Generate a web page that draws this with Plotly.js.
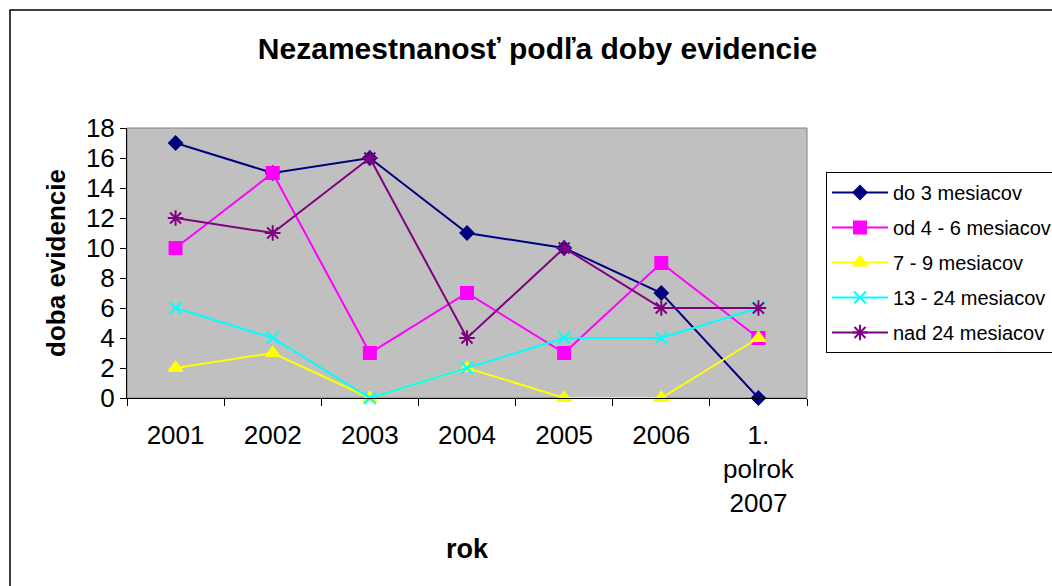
<!DOCTYPE html>
<html>
<head>
<meta charset="utf-8">
<script src="https://cdn.plot.ly/plotly-3.0.1.min.js"></script>
<style>
html,body{margin:0;padding:0;background:#fff;}
#chart{width:1052px;height:586px;}
</style>
</head>
<body>
<div id="chart"></div>
<script>
const categories = ["2001","2002","2003","2004","2005","2006","1.<br>polrok<br>2007"];
const seriesNames = ["do 3 mesiacov","od 4 - 6 mesiacov","7 - 9 mesiacov","13 - 24 mesiacov","nad 24 mesiacov"];
const do3 = [17,15,16,11,10,7,0];
const od4to6 = [10,15,3,7,3,9,4];
const m7to9 = [2,3,0,2,0,0,4];
const m13to24 = [6,4,0,2,4,4,6];
const nad24 = [12,11,16,4,10,6,6];

const values = [do3, od4to6, m7to9, m13to24, nad24];
const colors = ["#000080","#FF00FF","#FFFF00","#00FFFF","#800080"];
const symbols = ["diamond","square","triangle-up","x-thin-open","asterisk-open"];
const sizes = [10,12,12,12,13];

const FONT = "Liberation Sans, Arial, sans-serif";

const traces = values.map((v,i)=>({
  type:"scatter", mode:"lines+markers",
  x: categories, y: v, name: seriesNames[i],
  legendgroup: "g"+i,
  line:{color:colors[i], width:2},
  marker:{symbol:symbols[i], size:sizes[i], color:colors[i], line:{color:colors[i], width:2}},
  cliponaxis:false
}));

const layout = {
  width:1052, height:586,
  margin:{l:127, r:245, t:128, b:188},
  paper_bgcolor:"#ffffff",
  plot_bgcolor:"#C0C0C0",
  font:{family:FONT, color:"#000"},
  title:{text:"<b>Nezamestnanosť podľa doby evidencie</b>", font:{size:30, family:FONT}, x:0.511, xanchor:"center", y:0.918, yanchor:"middle"},
  showlegend:true,
  legend:{xref:"container", yref:"container", x:826/1052, xanchor:"left", y:1-172/586, yanchor:"top",
    bordercolor:"#000", borderwidth:1, bgcolor:"#fff",
    font:{size:20, family:FONT}, itemwidth:56, traceorder:"grouped", tracegroupgap:6},
  xaxis:{type:"category", range:[-0.5,6.5], tickson:"boundaries", ticks:"outside", ticklen:7, tickcolor:"#000",
    showline:true, linecolor:"#000", linewidth:1, showgrid:false, zeroline:false,
    tickfont:{size:26, family:FONT}, tickangle:0, ticklabelstandoff:14,
    title:{text:"<b>rok</b>", font:{size:27, family:FONT}, standoff:22}},
  yaxis:{range:[0,18], dtick:2, ticks:"outside", ticklen:6, tickcolor:"#000",
    showline:true, linecolor:"#000", linewidth:1, showgrid:false, zeroline:false,
    tickfont:{size:26, family:FONT},
    title:{text:"<b>doba evidencie</b>", font:{size:26, family:FONT}, standoff:12}},
  shapes:[
    {type:"rect", xref:"paper", yref:"paper", x0:0, x1:1, y0:0, y1:1, line:{color:"#808080", width:1}, layer:"below"},
    {type:"rect", xref:"paper", yref:"paper", x0:(10-127)/680, x1:2, y0:-2, y1:(398-10)/270, line:{color:"#000", width:1.5}}
  ]
};

Plotly.newPlot("chart", traces, layout, {displayModeBar:false, responsive:false});
</script>
</body>
</html>
